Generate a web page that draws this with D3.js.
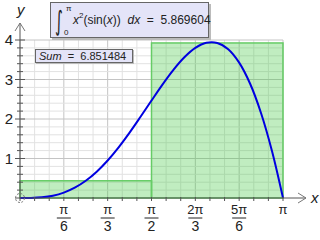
<!DOCTYPE html>
<html>
<head>
<meta charset="utf-8">
<script src="https://cdn.jsdelivr.net/npm/d3@7"></script>
<style>
  body { margin: 0; background: #fff; }
  svg { display: block; font-family: "Liberation Sans", Arial, sans-serif; }
</style>
</head>
<body>
<script>
// curve samples of x^2 sin(x)
const curveX = [0, 0.1309, 0.2618, 0.3927, 0.5236, 0.6545, 0.7854, 0.9163, 1.0472, 1.1781, 1.309, 1.4399,
  1.5708, 1.7017, 1.8326, 1.9635, 2.0944, 2.2253, 2.3562, 2.4871, 2.618, 2.7489, 2.8798, 3.0107, 3.1416];
const curveY = [0, 0.002, 0.018, 0.059, 0.137, 0.261, 0.436, 0.666, 0.950, 1.282, 1.655, 2.056,
  2.467, 2.871, 3.244, 3.562, 3.799, 3.929, 3.926, 3.766, 3.427, 2.892, 2.146, 1.183, 0];

// midpoint rectangles
const barStart = [0, 1.5708];
const barEnd = [1.5708, 3.1416];
const barHeight = [0.436, 3.925];

const xTickVals = [0.5236, 1.0472, 1.5708, 2.0944, 2.618, 3.1416];
const xTickNum = ["π", "π", "π", "2π", "5π", "π"];
const xTickDen = ["6", "3", "2", "3", "6", ""];
const yTickVals = [1, 2, 3, 4];

const integralValue = "5.869604";
const sumValue = "6.851484";

const width = 320, height = 240;
const x = d3.scaleLinear().domain([0, Math.PI]).range([20, 283]);
const y = d3.scaleLinear().domain([0, 4]).range([198, 40]);

const svg = d3.select("body").append("svg")
    .attr("width", width)
    .attr("height", height);

// grid
const minorX = d3.range(0, 19).map(i => i * Math.PI / 18);
const minorY = d3.range(0, 21).map(i => i * 0.2);
const grid = svg.append("g");
grid.selectAll(".vx").data(minorX).enter().append("line")
    .attr("x1", d => x(d)).attr("x2", d => x(d))
    .attr("y1", y(0)).attr("y2", y(4))
    .attr("stroke", (d, i) => i % 3 === 0 ? "#c4c4c4" : "#e2e2e2")
    .attr("stroke-width", 1);
grid.selectAll(".hy").data(minorY).enter().append("line")
    .attr("x1", x(0)).attr("x2", x(Math.PI))
    .attr("y1", d => y(d)).attr("y2", d => y(d))
    .attr("stroke", (d, i) => i % 5 === 0 ? "#c4c4c4" : "#e2e2e2")
    .attr("stroke-width", 1);

// bars
svg.append("g").selectAll("rect")
    .data(barHeight)
    .enter().append("rect")
    .attr("x", (d, i) => x(barStart[i]))
    .attr("y", d => y(d))
    .attr("width", (d, i) => x(barEnd[i]) - x(barStart[i]))
    .attr("height", d => y(0) - y(d))
    .attr("fill", "rgba(60,200,60,0.32)")
    .attr("stroke", "#66cc66")
    .attr("stroke-width", 1.5);

// curve
const pts = curveX.map((d, i) => [d, curveY[i]]);
svg.append("path")
    .datum(pts)
    .attr("fill", "none")
    .attr("stroke", "#0000e0")
    .attr("stroke-width", 2)
    .attr("d", d3.line().x(d => x(d[0])).y(d => y(d[1])).curve(d3.curveCatmullRom));

// axes
const axisColor = "#555";
svg.append("line").attr("x1", 15).attr("x2", 306).attr("y1", y(0)).attr("y2", y(0))
    .attr("stroke", axisColor);
svg.append("line").attr("x1", x(0)).attr("x2", x(0)).attr("y1", 201).attr("y2", 23)
    .attr("stroke", axisColor);
// arrowheads
svg.append("path").attr("d", "M298,193 L306,198 L298,203").attr("fill", "none").attr("stroke", "#777");
svg.append("path").attr("d", "M15,31 L20,23 L25,31").attr("fill", "none").attr("stroke", "#777");

// x ticks
svg.append("g").selectAll("line").data(minorX.slice(1)).enter().append("line")
    .attr("x1", d => x(d)).attr("x2", d => x(d))
    .attr("y1", y(0) - 1).attr("y2", y(0) + 3)
    .attr("stroke", axisColor);
// y ticks
svg.append("g").selectAll("line").data(minorY.slice(1)).enter().append("line")
    .attr("x1", (d, i) => (i + 1) % 5 === 0 ? x(0) - 5 : x(0) - 3)
    .attr("x2", (d, i) => (i + 1) % 5 === 0 ? x(0) + 5 : x(0) + 3)
    .attr("y1", d => y(d)).attr("y2", d => y(d))
    .attr("stroke", axisColor);

// y labels
svg.append("g").selectAll("text").data(yTickVals).enter().append("text")
    .attr("x", 13).attr("y", d => y(d) + 5)
    .attr("text-anchor", "end")
    .style("font-size", "15px")
    .attr("fill", "#222")
    .text(d => d);

// x labels as fractions
const xl = svg.append("g").selectAll("g").data(xTickVals).enter().append("g")
    .attr("transform", d => `translate(${x(d)},0)`);
xl.append("text").attr("y", 214).attr("text-anchor", "middle")
    .style("font-size", "13px").attr("fill", "#222")
    .text((d, i) => xTickNum[i]);
xl.filter((d, i) => xTickDen[i] !== "").append("line")
    .attr("x1", -7).attr("x2", 7).attr("y1", 218).attr("y2", 218)
    .attr("stroke", "#222");
xl.append("text").attr("y", 231).attr("text-anchor", "middle")
    .style("font-size", "14px").attr("fill", "#222")
    .text((d, i) => xTickDen[i]);

// origin circle
svg.append("circle").attr("cx", x(0)).attr("cy", y(0)).attr("r", 4.5)
    .attr("fill", "none").attr("stroke", "#777").attr("stroke-dasharray", "2,1.5");

// axis names
svg.append("text").attr("x", 311).attr("y", 203).style("font-size", "15px")
    .style("font-style", "italic").attr("fill", "#222").text("x");
svg.append("text").attr("x", 17).attr("y", 15).style("font-size", "15px")
    .style("font-style", "italic").attr("fill", "#222").text("y");

// integral box
svg.append("rect").attr("x", 52).attr("y", 4).attr("width", 159).attr("height", 36).attr("fill", "#bbb");
svg.append("rect").attr("x", 50.5).attr("y", 2.5).attr("width", 158).attr("height", 35)
    .attr("fill", "#e4e4f8").attr("stroke", "#666");
svg.append("text").attr("transform", "translate(55,30) scale(0.75,1.35)")
    .style("font-size", "20px").attr("fill", "#222")
    .style("font-family", "DejaVu Sans").text("∫");
svg.append("text").attr("x", 66).attr("y", 11).style("font-size", "8px").attr("fill", "#222").text("π");
svg.append("text").attr("x", 64).attr("y", 35).style("font-size", "8px").attr("fill", "#222").text("0");
const it = svg.append("text").attr("x", 73).attr("y", 24).style("font-size", "12px").attr("fill", "#222");
it.append("tspan").style("font-style", "italic").text("x");
it.append("tspan").attr("dy", -6).style("font-size", "8px").text("2");
it.append("tspan").attr("dy", 6).text("(sin(");
it.append("tspan").style("font-style", "italic").text("x");
it.append("tspan").text("))\u00a0\u00a0");
it.append("tspan").style("font-style", "italic").text("dx");
it.append("tspan").text("\u00a0\u00a0=\u00a0\u00a0" + integralValue);

// sum box
svg.append("rect").attr("x", 36).attr("y", 50).attr("width", 98).attr("height", 14).attr("fill", "#bbb");
svg.append("rect").attr("x", 35.5).attr("y", 49.5).attr("width", 97).attr("height", 13)
    .attr("fill", "#e4e4f8").attr("stroke", "#666");
const st = svg.append("text").attr("x", 39).attr("y", 60).style("font-size", "11px").attr("fill", "#222");
st.append("tspan").style("font-style", "italic").text("Sum");
st.append("tspan").text("\u00a0\u00a0=\u00a0\u00a0" + sumValue);
</script>
</body>
</html>
